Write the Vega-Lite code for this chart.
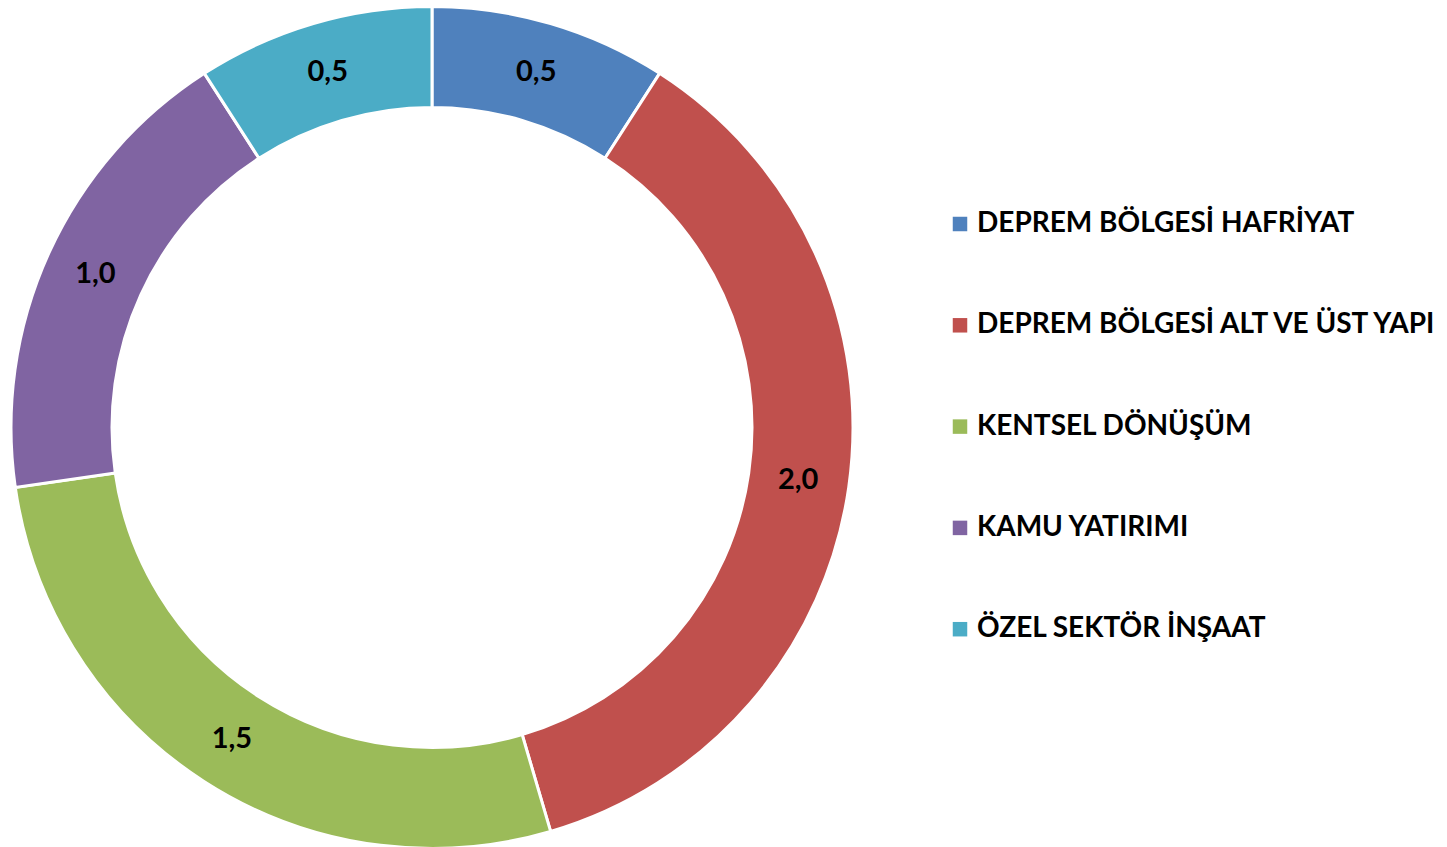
{
  "$schema": "https://vega.github.io/schema/vega-lite/v6.json",
  "width": 864,
  "height": 851,
  "padding": 0,
  "autosize": {"type": "pad"},
  "background": "white",
  "config": {"view": {"stroke": null}, "font": "Lato"},
  "data": {
    "values": [
      {"kategori": "DEPREM BÖLGESİ HAFRİYAT", "deger": 0.5, "etiket": "0,5", "sira": 1},
      {"kategori": "DEPREM BÖLGESİ ALT VE ÜST YAPI", "deger": 2.0, "etiket": "2,0", "sira": 2},
      {"kategori": "KENTSEL DÖNÜŞÜM", "deger": 1.5, "etiket": "1,5", "sira": 3},
      {"kategori": "KAMU YATIRIMI", "deger": 1.0, "etiket": "1,0", "sira": 4},
      {"kategori": "ÖZEL SEKTÖR İNŞAAT", "deger": 0.5, "etiket": "0,5", "sira": 5}
    ]
  },
  "encoding": {
    "theta": {"field": "deger", "type": "quantitative", "stack": true},
    "order": {"field": "sira", "type": "quantitative"},
    "color": {
      "field": "kategori",
      "type": "nominal",
      "sort": ["DEPREM BÖLGESİ HAFRİYAT", "DEPREM BÖLGESİ ALT VE ÜST YAPI", "KENTSEL DÖNÜŞÜM", "KAMU YATIRIMI", "ÖZEL SEKTÖR İNŞAAT"],
      "scale": {
        "domain": ["DEPREM BÖLGESİ HAFRİYAT", "DEPREM BÖLGESİ ALT VE ÜST YAPI", "KENTSEL DÖNÜŞÜM", "KAMU YATIRIMI", "ÖZEL SEKTÖR İNŞAAT"],
        "range": ["#4F81BD", "#C0504D", "#9BBB59", "#8064A2", "#4BACC6"]
      },
      "legend": {
        "title": null,
        "orient": "none",
        "legendX": 946,
        "legendY": 208,
        "padding": 0,
        "symbolType": "square",
        "symbolSize": 210,
        "symbolStrokeWidth": 0,
        "labelFont": "Lato",
        "labelFontWeight": "bold",
        "labelFontSize": 28,
        "labelColor": "black",
        "labelOffset": 3,
        "labelLimit": 600,
        "rowPadding": 73.3
      }
    }
  },
  "layer": [
    {
      "mark": {"type": "arc", "outerRadius": 421, "innerRadius": 320, "stroke": "white", "strokeWidth": 3}
    },
    {
      "mark": {"type": "text", "radius": 370, "font": "Lato", "fontWeight": "bold", "fontSize": 29, "color": "black"},
      "encoding": {
        "text": {"field": "etiket", "type": "nominal"},
        "color": {"value": "black"}
      }
    }
  ]
}
